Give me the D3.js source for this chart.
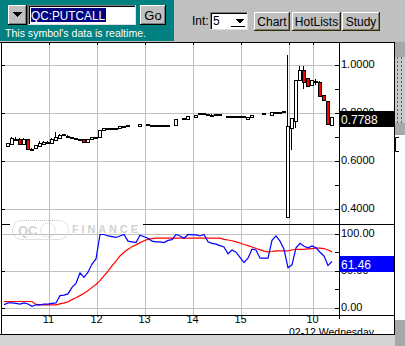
<!DOCTYPE html>
<html>
<head>
<meta charset="utf-8">
<script src="https://cdn.jsdelivr.net/npm/d3@7"></script>
<style>
  html, body { margin: 0; padding: 0; background: #c0c0c0; }
  svg { display: block; font-family: "Liberation Sans", Arial, sans-serif; }
</style>
</head>
<body>
<svg id="chart" width="405" height="346"></svg>
<script>
// 5-minute bars, first one at 10:05 (minutes after the 9:30 open), day 2 continues after 16:00
const firstBarMinute = 35;
const barStep = 5;

const barOpen = [null,
  0.658, 0.667, 0.689, 0.688, 0.667, 0.688, 0.646, 0.649, 0.658, 0.667,
  0.676, 0.670, 0.686, 0.690, 0.705, 0.703, 0.697, 0.690, 0.689, 0.689,
  0.674, 0.686, 0.695, 0.695, 0.725, 0.735, 0.735, 0.735, 0.732, 0.743,
  0.744, null, null, 0.740, null, 0.748, 0.744, 0.744, 0.744, 0.744,
  0.744, null, 0.746, null, 0.774, 0.771, null, 0.782, 0.794, 0.794,
  0.792, 0.791, 0.790, 0.790, null, 0.785, 0.784, 0.785, 0.785, 0.783,
  0.774, 0.778, null, null, 0.794, null, 0.788, 0.801, 0.801, 0.804,
  0.363,
  0.732, 0.764, 0.933, 0.975, 0.940, 0.912, 0.930, 0.926, 0.871, 0.846, 0.746];
const barHigh = [null,
  0.672, 0.697, 0.697, 0.690, 0.690, 0.688, 0.648, 0.663, 0.679, 0.679,
  0.678, 0.690, 0.715, 0.707, 0.707, 0.704, 0.697, 0.690, 0.689, 0.689,
  0.688, 0.695, 0.695, 0.725, 0.733, 0.735, 0.735, 0.735, 0.742, 0.743,
  0.744, null, null, 0.749, null, 0.748, 0.744, 0.744, 0.744, 0.744,
  0.744, null, 0.772, null, 0.774, 0.782, null, 0.789, 0.794, 0.794,
  0.792, 0.792, 0.790, 0.790, null, 0.785, 0.784, 0.785, 0.785, 0.783,
  0.781, 0.786, null, null, 0.794, null, 0.800, 0.801, 0.801, 0.806,
  1.038,
  0.774, 0.933, 0.992, 0.992, 0.940, 0.933, 0.936, 0.931, 0.871, 0.846, 0.778];
const barLow = [null,
  0.658, 0.667, 0.687, 0.667, 0.667, 0.646, 0.642, 0.647, 0.658, 0.667,
  0.669, 0.670, 0.686, 0.690, 0.704, 0.699, 0.697, 0.690, 0.689, 0.676,
  0.674, 0.686, 0.695, 0.695, 0.725, 0.735, 0.735, 0.735, 0.732, 0.743,
  0.744, null, null, 0.740, null, 0.748, 0.744, 0.744, 0.744, 0.744,
  0.744, null, 0.746, null, 0.774, 0.771, null, 0.782, 0.794, 0.794,
  0.792, 0.788, 0.790, 0.790, null, 0.785, 0.784, 0.785, 0.785, 0.783,
  0.774, 0.778, null, null, 0.794, null, 0.788, 0.801, 0.801, 0.804,
  0.363,
  0.642, 0.732, 0.933, 0.894, 0.908, 0.912, 0.913, 0.867, 0.850, 0.749, 0.746];
const barClose = [null,
  0.670, 0.690, 0.689, 0.667, 0.688, 0.646, 0.646, 0.663, 0.672, 0.676,
  0.670, 0.686, 0.697, 0.704, 0.707, 0.699, 0.697, 0.690, 0.689, 0.676,
  0.688, 0.695, 0.695, 0.725, 0.733, 0.735, 0.735, 0.735, 0.742, 0.743,
  0.744, null, null, 0.749, null, 0.748, 0.744, 0.744, 0.744, 0.744,
  0.744, null, 0.772, null, 0.774, 0.782, null, 0.789, 0.794, 0.794,
  0.792, 0.788, 0.790, 0.790, null, 0.785, 0.784, 0.785, 0.785, 0.783,
  0.781, 0.786, null, null, 0.794, null, 0.800, 0.801, 0.801, 0.806,
  0.742,
  0.774, 0.933, 0.975, 0.926, 0.908, 0.933, 0.930, 0.867, 0.850, 0.749, 0.7788];

// stochastic %K (blue) and %D (red)
const stochK = [3,
  5.6, 5.6, 5, 4, 5.5, 4, 1, 3, 3, 4,
  4, 5, 5.5, 15.4, 16, 17.7, 26.6, 32, 46, 40,
  47, 58, 65, 98, 98, 96, 95, 94, 96, 98,
  89, 88, 87, 97, 95, 93, 89, 88, 88, 87,
  90, 91, 98, 96, 93, 98, 97.5, 97.5, 96, 98,
  88, 86, 85, 83, 81, 72, 77, 74, 67, 60,
  66, 78, 77, 66, 66, 66, 90, 96, 89, 78,
  53,
  57, 80, 86, 82, 80, 82.5, 80, 74, 69, 56, 61.46];
const stochD = [7.4,
  7.4, 7.4, 7.4, 7.4, 7.4, 7.4, 7.4, 3.5, 3, 3,
  3, 3, 3, 4.3, 5.5, 7, 10, 12.5, 15.4, 18.5,
  22, 26.5, 30.5, 35.6, 42, 48.5, 55.5, 62, 69, 74,
  78, 81.5, 84, 87, 89.5, 91.5, 92.5, 93, 93, 93,
  93, 93, 93, 93, 93, 93, 93, 93, 93, 93,
  93, 93, 93, 93, 91.5, 90.5, 89.5, 88, 86.5, 84.5,
  83, 81, 79, 77.5, 75.5, 74.5, 75, 75.8, 75.8, 75.8,
  75.8,
  77, 78, 78, 78, 78.5, 79, 79.5, 79.5, 79, 77, 74.5];

const priceTicks = [0.4, 0.6, 0.8, 1.0];
const priceMinorTicks = [0.5, 0.7, 0.9];
const oscTicks = [0, 50, 100];
const oscMinorTicks = [25, 75];
const timeTicks = [90, 150, 210, 270, 330, 420];
const timeLabels = ['11', '12', '13', '14', '15', '10'];
const dayBreak = 390;
const dayLabel = '02-12 Wednesday';
const lastPrice = '0.7788';
const lastOsc = '61.46';

const svg = d3.select('#chart');
const pLeft = 2, pRight = 339, pTop = 42, sep = 224, oscBottom = 315, frameBottom = 334, frameRight = 394;

const x = d3.scaleLinear().domain([30, 420]).range([0, 312]);
const yPrice = d3.scaleLinear().domain([0.4, 1.0]).range([208, 64]);
const yOsc = d3.scaleLinear().domain([0, 100]).range([307, 233]);

const bars = barOpen.map((o, i) => ({
  m: firstBarMinute + i * barStep,
  o, h: barHigh[i], l: barLow[i], c: barClose[i],
  k: stochK[i], d: stochD[i],
}));

// ---------- backgrounds ----------
svg.append('rect').attr('x', 0).attr('y', 0).attr('width', 405).attr('height', 346).attr('fill', '#d4d4d4');
svg.append('rect').attr('x', 0).attr('y', 0).attr('width', 405).attr('height', 42).attr('fill', '#c0c0c0');
svg.append('rect').attr('x', 0).attr('y', 0).attr('width', 174).attr('height', 41).attr('fill', '#008080');
svg.append('rect').attr('x', 0).attr('y', 42).attr('width', 405).attr('height', frameBottom - 42).attr('fill', '#fff');

// right strip decorations
const defs = svg.append('defs');
const pat = defs.append('pattern').attr('id', 'dots').attr('width', 4).attr('height', 4)
  .attr('patternUnits', 'userSpaceOnUse');
pat.append('rect').attr('width', 4).attr('height', 4).attr('fill', '#c8c8c8');
pat.append('rect').attr('x', 1).attr('y', 1).attr('width', 1).attr('height', 2).attr('fill', '#008080');
svg.append('rect').attr('x', 395).attr('y', 42).attr('width', 10).attr('height', 15).attr('fill', '#a8a8a8');
svg.append('rect').attr('x', 395).attr('y', 57).attr('width', 10).attr('height', 66).attr('fill', 'url(#dots)');
svg.append('rect').attr('x', 395).attr('y', 123).attr('width', 10).attr('height', 12).attr('fill', '#a8a8a8');
svg.append('path').attr('d', 'M399,137.5H395.5V151.5H399').attr('fill', 'none').attr('stroke', '#000');
svg.append('rect').attr('x', 395).attr('y', 320).attr('width', 10).attr('height', 26).attr('fill', '#a8a8a8');

// ---------- grid ----------
const grid = svg.append('g').attr('shape-rendering', 'crispEdges');
grid.append('g')
  .attr('transform', `translate(0.5,${oscBottom})`)
  .call(d3.axisBottom(x).tickValues([...timeTicks, dayBreak]).tickSize(-(oscBottom - pTop)).tickFormat(''))
  .call(g => g.select('.domain').remove())
  .call(g => g.selectAll('line').attr('stroke', '#c0c0c0'));
grid.append('g')
  .attr('transform', `translate(${pRight},0.5)`)
  .call(d3.axisLeft(yPrice).tickValues(priceTicks).tickSize(pRight - pLeft).tickFormat(''))
  .call(g => g.select('.domain').remove())
  .call(g => g.selectAll('line').attr('stroke', '#c0c0c0'));
grid.append('g')
  .attr('transform', `translate(${pRight},0.5)`)
  .call(d3.axisLeft(yOsc).tickValues(oscTicks).tickSize(pRight - pLeft).tickFormat(''))
  .call(g => g.select('.domain').remove())
  .call(g => g.selectAll('line').attr('stroke', '#c0c0c0'));

// ---------- watermark ----------
const wm = svg.append('g').attr('fill', 'none').attr('stroke', '#c4c4c4').attr('stroke-dasharray', '1,1');
wm.append('rect').attr('x', 12.5).attr('y', 220.5).attr('width', 56).attr('height', 19).attr('rx', 9.5);
wm.append('circle').attr('cx', 48).attr('cy', 230).attr('r', 7);
svg.append('text').attr('x', 18).attr('y', 235).attr('font-size', 13).attr('font-weight', 'bold')
  .attr('fill', '#d2d2d2').text('QC');
svg.append('text').attr('x', 72).attr('y', 233).attr('font-size', 11).attr('font-weight', 'bold')
  .attr('fill', '#d2d2d2').attr('textLength', 66).attr('lengthAdjust', 'spacing').text('FINANCE');

// ---------- candles ----------
const candles = svg.append('g').attr('shape-rendering', 'crispEdges');
const valid = bars.filter(b => b.o != null);
candles.selectAll('line.wick').data(valid).join('line')
  .attr('class', 'wick')
  .attr('x1', b => x(b.m) - 0.5).attr('x2', b => x(b.m) - 0.5)
  .attr('y1', b => Math.max(pTop, Math.round(yPrice(b.h))))
  .attr('y2', b => Math.round(yPrice(b.l)))
  .attr('stroke', '#000');
candles.selectAll('rect.body').data(valid.filter(b => Math.abs(yPrice(b.o) - yPrice(b.c)) >= 1)).join('rect')
  .attr('class', 'body')
  .attr('x', b => x(b.m) - 1.5)
  .attr('y', b => Math.round(yPrice(Math.max(b.o, b.c))) + 0.5)
  .attr('width', 3)
  .attr('height', b => Math.max(1, Math.round(Math.abs(yPrice(b.o) - yPrice(b.c)))))
  .attr('fill', b => (b.c < b.o ? '#ff0000' : '#fff'))
  .attr('stroke', '#000');
candles.selectAll('rect.doji').data(valid.filter(b => Math.abs(yPrice(b.o) - yPrice(b.c)) < 1)).join('rect')
  .attr('class', 'doji')
  .attr('x', b => x(b.m) - 2)
  .attr('y', b => Math.round(yPrice(b.c)))
  .attr('width', 4)
  .attr('height', 2)
  .attr('fill', '#000');

// ---------- oscillator ----------
const lineK = d3.line().x(b => x(b.m)).y(b => yOsc(b.k));
const lineD = d3.line().x(b => x(b.m)).y(b => yOsc(b.d));
svg.append('path').datum(bars).attr('d', lineD).attr('fill', 'none').attr('stroke', '#ff0000').attr('stroke-width', 1.2);
svg.append('path').datum(bars).attr('d', lineK).attr('fill', 'none').attr('stroke', '#0000ff').attr('stroke-width', 1.2);

// ---------- frame ----------
const frame = svg.append('g').attr('stroke', '#000').attr('shape-rendering', 'crispEdges').attr('fill', 'none');
frame.append('line').attr('x1', 0).attr('x2', frameRight).attr('y1', 42.5).attr('y2', 42.5);
frame.append('line').attr('x1', 1.5).attr('x2', 1.5).attr('y1', 42).attr('y2', frameBottom);
frame.append('line').attr('x1', pRight + 0.5).attr('x2', pRight + 0.5).attr('y1', 42).attr('y2', oscBottom + 4);
frame.append('line').attr('x1', frameRight + 0.5).attr('x2', frameRight + 0.5).attr('y1', 42).attr('y2', frameBottom + 1);
frame.append('line').attr('x1', 143).attr('x2', frameRight).attr('y1', sep + 0.5).attr('y2', sep + 0.5);
frame.append('line').attr('x1', 2).attr('x2', 10).attr('y1', sep + 0.5).attr('y2', sep + 0.5);
frame.append('line').attr('x1', 2).attr('x2', frameRight).attr('y1', oscBottom + 0.5).attr('y2', oscBottom + 0.5);
frame.append('line').attr('x1', 0).attr('x2', frameRight + 1).attr('y1', frameBottom + 0.5).attr('y2', frameBottom + 0.5);

// top ticks
svg.append('g').attr('transform', 'translate(0.5,42)').attr('shape-rendering', 'crispEdges')
  .call(d3.axisBottom(x).tickValues([...timeTicks, dayBreak]).tickSize(3).tickFormat(''))
  .call(g => g.select('.domain').remove());

// left edge ticks
svg.append('g').attr('transform', 'translate(2,0.5)').attr('shape-rendering', 'crispEdges')
  .call(d3.axisRight(yPrice).tickValues(priceTicks).tickSize(3).tickFormat(''))
  .call(g => g.select('.domain').remove());
svg.append('g').attr('transform', 'translate(2,0.5)').attr('shape-rendering', 'crispEdges')
  .call(d3.axisRight(yOsc).tickValues([0, 50]).tickSize(3).tickFormat(''))
  .call(g => g.select('.domain').remove());

// right axes
const fmtPrice = d3.format('.4f');
const fmtOsc = d3.format('.2f');
function rightAxis(scale, major, minor, fmt) {
  svg.append('g').attr('transform', `translate(${pRight},0.5)`).attr('shape-rendering', 'crispEdges')
    .call(d3.axisLeft(scale).tickValues([...major, ...minor]).tickSize(4).tickFormat(''))
    .call(g => g.select('.domain').remove());
  svg.append('g').attr('transform', `translate(${pRight},0)`)
    .call(d3.axisRight(scale).tickValues(major).tickSize(0).tickPadding(2).tickFormat(fmt))
    .call(g => g.select('.domain').remove())
    .call(g => g.selectAll('text').attr('font-size', 11).attr('font-family', '"Liberation Sans", Arial, sans-serif')
      .attr('fill', '#000').attr('dy', '0.36em'));
}
rightAxis(yPrice, priceTicks, priceMinorTicks, fmtPrice);
rightAxis(yOsc, oscTicks, oscMinorTicks, fmtOsc);

// last value boxes
function valueBox(yv, fill, label) {
  const y0 = Math.round(yv) - 6;
  svg.append('rect').attr('x', pRight + 1).attr('y', y0).attr('width', frameRight - pRight - 1).attr('height', 16).attr('fill', fill);
  svg.append('text').attr('x', pRight + 2).attr('y', y0 + 12.5).attr('font-size', 12).attr('fill', '#fff').text(label);
}
valueBox(yPrice(+lastPrice), '#000', lastPrice);
valueBox(yOsc(+lastOsc), '#0000ff', lastOsc);

// x labels
svg.append('g').attr('transform', `translate(0,${oscBottom})`)
  .call(d3.axisBottom(x).tickValues(timeTicks).tickSize(0).tickPadding(0.5).tickFormat((d, i) => timeLabels[i]))
  .call(g => g.select('.domain').remove())
  .call(g => g.selectAll('text').attr('font-size', 11).attr('font-family', '"Liberation Sans", Arial, sans-serif').attr('fill', '#000'));
defs.append('clipPath').attr('id', 'axclip').append('rect').attr('x', 0).attr('y', oscBottom).attr('width', frameRight).attr('height', frameBottom - oscBottom);
svg.append('text').attr('clip-path', 'url(#axclip)')
  .attr('x', x(dayBreak) + 1).attr('y', frameBottom + 1.5).attr('font-size', 10.5)
  .attr('textLength', 85).attr('lengthAdjust', 'spacingAndGlyphs').text(dayLabel);

// ---------- header controls ----------
const hdr = svg.append('g').attr('shape-rendering', 'crispEdges');
function raised(x0, y0, w, h, dark, mid) {
  hdr.append('rect').attr('x', x0).attr('y', y0).attr('width', w).attr('height', h).attr('fill', '#c0c0c0');
  hdr.append('path').attr('d', `M${x0 + 0.5},${y0 + h - 1}V${y0 + 0.5}H${x0 + w - 1}`).attr('stroke', '#fff').attr('fill', 'none');
  hdr.append('path').attr('d', `M${x0},${y0 + h - 0.5}H${x0 + w - 0.5}V${y0}`).attr('stroke', dark).attr('fill', 'none');
  hdr.append('path').attr('d', `M${x0 + 1},${y0 + h - 1.5}H${x0 + w - 1.5}V${y0 + 1}`).attr('stroke', mid).attr('fill', 'none');
}
function sunken(x0, y0, w, h) {
  hdr.append('rect').attr('x', x0).attr('y', y0).attr('width', w).attr('height', h).attr('fill', '#fff');
  hdr.append('path').attr('d', `M${x0 + 0.5},${y0 + h}V${y0 + 0.5}H${x0 + w}`).attr('stroke', '#808080').attr('fill', 'none');
  hdr.append('path').attr('d', `M${x0 + 1.5},${y0 + h - 1}V${y0 + 1.5}H${x0 + w - 1}`).attr('stroke', '#000').attr('fill', 'none');
  hdr.append('path').attr('d', `M${x0},${y0 + h - 0.5}H${x0 + w - 0.5}V${y0}`).attr('stroke', '#dfdfdf').attr('fill', 'none');
}
raised(8, 5, 19, 20, '#000', '#808080');
hdr.append('path').attr('d', 'M13,12H22L17.5,17Z').attr('fill', '#000');
sunken(28, 5, 108, 20);
hdr.append('rect').attr('x', 31).attr('y', 8).attr('width', 75).attr('height', 14).attr('fill', '#000080');
svg.append('text').attr('x', 31).attr('y', 20).attr('font-size', 13).attr('fill', '#fff')
  .attr('textLength', 74).attr('lengthAdjust', 'spacingAndGlyphs').text('QC:PUTCALL');
raised(140, 5, 26, 20, '#000', '#808080');
svg.append('text').attr('x', 153).attr('y', 20).attr('font-size', 13).attr('text-anchor', 'middle').text('Go');
svg.append('text').attr('x', 5).attr('y', 37).attr('font-size', 10.5).attr('fill', '#fff')
  .attr('textLength', 141).attr('lengthAdjust', 'spacingAndGlyphs').text("This symbol's data is realtime.");

svg.append('text').attr('x', 192).attr('y', 25).attr('font-size', 12).text('Int:');
sunken(210, 12, 38, 18);
svg.append('text').attr('x', 213).attr('y', 25).attr('font-size', 12).text('5');
hdr.append('path').attr('d', 'M235,19H244L239.5,23.5Z').attr('fill', '#000');
hdr.append('line').attr('x1', 231).attr('x2', 245).attr('y1', 26.5).attr('y2', 26.5).attr('stroke', '#000');

const buttons = [['Chart', 254, 36], ['HotLists', 292, 49], ['Study', 342, 38]];
buttons.forEach(([label, bx, bw]) => {
  raised(bx, 12, bw, 19, '#2b2b10', '#808060');
  svg.append('text').attr('x', bx + bw / 2).attr('y', 26).attr('font-size', 12)
    .attr('text-anchor', 'middle').text(label);
});
</script>
</body>
</html>
